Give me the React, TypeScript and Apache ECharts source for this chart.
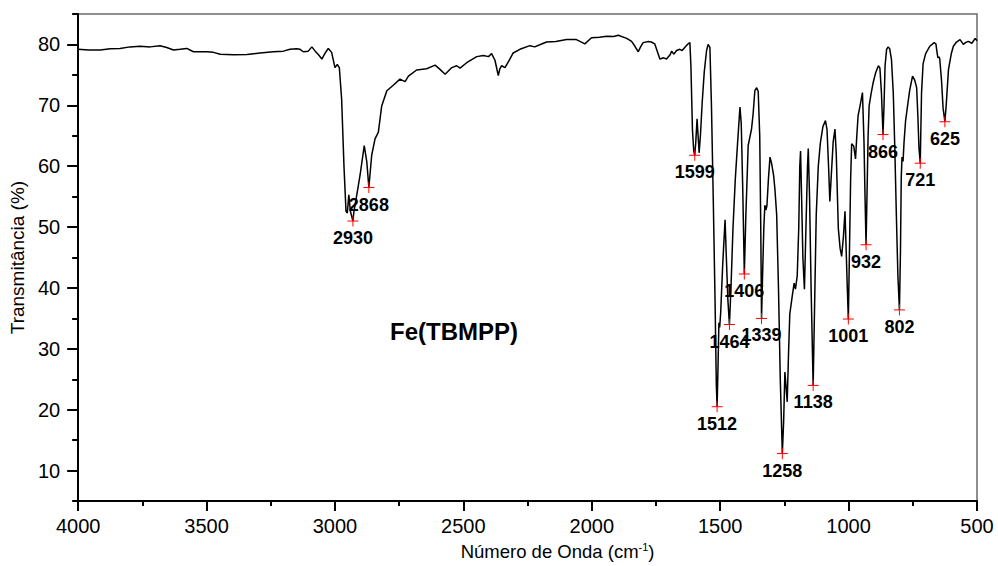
import React, { useEffect, useRef } from "react";
import * as echarts from "echarts";

// Spectrum (wavenumber cm-1, transmittance %)
const wavenumbers = [
  4000, 3960, 3914, 3875, 3837, 3798, 3759, 3720, 3681, 3655, 3629, 3603, 3577, 3551, 3499, 3473, 3447, 3395, 3343, 3292,
  3240, 3201, 3175, 3149, 3136, 3123, 3104, 3090, 3077, 3064, 3051, 3038, 3026, 3013, 3000, 2991, 2983, 2974, 2965, 2957,
  2952, 2946, 2940, 2930, 2926, 2915, 2902, 2886, 2876, 2868, 2857, 2844, 2831, 2818, 2798, 2773, 2747, 2727, 2714, 2682,
  2643, 2610, 2591, 2571, 2545, 2526, 2513, 2487, 2448, 2422, 2402, 2390, 2377, 2364, 2358, 2351, 2338, 2320, 2306, 2280,
  2241, 2222, 2200, 2176, 2140, 2098, 2060, 2046, 2027, 2001, 1970, 1942, 1915, 1897, 1864, 1845, 1832, 1819, 1810, 1800,
  1780, 1768, 1755, 1742, 1735, 1720, 1709, 1695, 1689, 1680, 1670, 1657, 1648, 1638, 1625, 1618, 1614, 1608, 1603, 1599,
  1595, 1590, 1586, 1582, 1577, 1570, 1562, 1553, 1547, 1540, 1534, 1527, 1520, 1515, 1512, 1509, 1505, 1502, 1498, 1490,
  1481, 1476, 1470, 1464, 1458, 1450, 1441, 1432, 1423, 1418, 1412, 1406, 1400, 1391, 1378, 1372, 1365, 1358, 1352, 1346,
  1342, 1339, 1335, 1330, 1326, 1322, 1318, 1312, 1306, 1300, 1292, 1287, 1280, 1273, 1266, 1258, 1253, 1248, 1244, 1239,
  1234, 1229, 1220, 1212, 1207, 1200, 1194, 1190, 1187, 1183, 1178, 1172, 1166, 1160, 1157, 1152, 1146, 1138, 1132, 1126,
  1118, 1110, 1100, 1090, 1084, 1078, 1073, 1068, 1060, 1053, 1048, 1040, 1033, 1027, 1020, 1014, 1010, 1005, 1001, 997,
  992, 988, 980, 973, 968, 963, 955, 946, 940, 936, 932, 928, 924, 920, 912, 904, 895, 884, 878, 872,
  866, 862, 858, 852, 846, 840, 833, 826, 820, 814, 808, 802, 798, 795, 792, 788, 784, 778, 772, 762,
  751, 743, 735, 730, 726, 721, 716, 710, 700, 684, 675, 667, 660, 655, 652, 648, 645, 638, 632, 625,
  620, 611, 600, 592, 580, 566, 553, 545, 534, 520, 507, 500,
];
const transmittance = [
  79.2, 79.1, 79.1, 79.3, 79.35, 79.6, 79.7, 79.6, 79.8, 79.5, 79.1, 79.2, 79.35, 78.8, 78.8, 78.7, 78.4, 78.3, 78.35, 78.6,
  78.8, 78.9, 79.2, 79.3, 79.2, 78.8, 78.9, 79.6, 78.9, 78.3, 77.6, 78.6, 79.35, 78.7, 76.2, 76.7, 76.2, 71.0, 60.1, 52.6,
  52.3, 55.3, 52.6, 51.0, 52.6, 55.3, 58.6, 63.4, 60.7, 56.5, 61.8, 64.5, 65.6, 69.9, 72.4, 73.3, 74.3, 73.9, 74.8, 75.8,
  76.0, 76.6, 75.9, 75.1, 76.2, 76.5, 76.1, 77.0, 78.0, 78.2, 78.0, 78.5, 77.4, 74.9, 76.0, 76.5, 76.2, 77.5, 78.6, 79.2,
  79.8, 79.6, 80.0, 80.4, 80.5, 80.8, 80.8, 80.5, 80.1, 81.1, 81.2, 81.35, 81.3, 81.5, 81.0, 80.5, 79.7, 78.8, 79.6, 80.3,
  80.5, 80.4, 80.1, 78.5, 77.6, 77.8, 77.6, 78.3, 78.9, 78.4, 79.0, 79.2, 79.0, 79.5, 80.1, 80.3, 76.5, 66.0, 62.5, 61.8,
  64.0, 67.8, 65.0, 62.2, 65.0, 70.5, 75.5, 79.0, 80.0, 79.5, 70.0, 54.7, 38.0, 24.0, 20.5, 26.0, 34.3, 33.5, 36.0, 44.0,
  51.2, 45.0, 38.0, 34.0, 40.0, 50.0, 58.0, 64.0, 69.7, 67.0, 56.0, 42.3, 52.0, 63.4, 66.1, 68.5, 72.4, 72.9, 72.3, 65.0,
  50.0, 35.0, 42.0, 50.0, 53.6, 52.8, 53.5, 58.0, 61.5, 60.5, 58.5, 56.3, 52.0, 40.0, 25.0, 12.8, 18.0, 26.2, 24.0, 21.3,
  29.0, 35.7, 38.5, 40.8, 39.8, 42.0, 50.0, 60.0, 62.5, 55.0, 45.0, 39.8, 50.0, 60.0, 62.9, 55.0, 40.0, 24.0, 38.0, 52.0,
  60.0, 63.8, 66.5, 67.5, 66.0, 60.0, 54.2, 58.0, 64.0, 66.1, 62.0, 49.8, 46.5, 45.2, 48.5, 52.6, 47.0, 40.0, 34.9, 45.0,
  58.0, 63.7, 63.3, 61.2, 65.0, 68.3, 70.0, 72.1, 64.0, 55.0, 47.1, 56.0, 65.0, 69.9, 72.0, 73.8, 75.3, 76.5, 76.1, 72.0,
  65.2, 70.0, 76.5, 79.2, 79.6, 79.3, 77.5, 72.0, 62.9, 52.0, 42.0, 36.4, 46.0, 58.0, 61.5, 60.8, 64.0, 67.5, 69.4, 72.5,
  74.8, 74.2, 72.9, 68.0, 63.0, 60.5, 72.0, 76.8, 78.5, 79.7, 80.0, 80.3, 80.1, 78.5, 77.8, 78.0, 77.6, 74.0, 69.5, 67.3,
  70.0, 75.9, 78.5, 79.7, 80.4, 80.8, 80.0, 80.3, 80.5, 80.2, 81.0, 80.6,
];

// Marked peaks
const peakWavenumbers = [2930, 2868, 1599, 1512, 1464, 1406, 1339, 1258, 1138, 1001, 932, 866, 802, 721, 625];
const peakValues = [51.0, 56.5, 61.8, 20.5, 34.0, 42.3, 35.0, 12.8, 24.0, 34.9, 47.1, 65.2, 36.4, 60.5, 67.3];

const yTickValues = [10, 20, 30, 40, 50, 60, 70, 80];

const FONT = "Arial, 'Liberation Sans', sans-serif";

export default function App() {
  const ref = useRef<HTMLDivElement>(null);

  useEffect(() => {
    if (!ref.current) return;
    const chart = echarts.init(ref.current, undefined, { renderer: "svg" });
    const lineData = wavenumbers.map((w, i) => [w, transmittance[i]]);
    const peakData = peakWavenumbers.map((w, i) => [w, peakValues[i]]);

    chart.setOption({
      animation: false,
      backgroundColor: "#ffffff",
      textStyle: { fontFamily: FONT },
      grid: {
        left: 78,
        right: 21,
        top: 14,
        bottom: 61,
        show: true,
        borderColor: "#6a6a6a",
        borderWidth: 1.5,
        backgroundColor: "transparent",
      },
      xAxis: {
        type: "value",
        min: 500,
        max: 4000,
        interval: 500,
        inverse: true,
        name: "{a|Número de Onda (cm}{s|-1}{a|)}",
        nameLocation: "middle",
        nameGap: 37,
        nameTextStyle: {
          padding: [0, 0, 0, 60],
          rich: {
            a: { fontSize: 18.5, fontFamily: FONT, color: "#000" },
            s: { fontSize: 11, fontFamily: FONT, color: "#000", padding: [0, 0, 10, 0] },
          },
        },
        axisLine: { show: true, lineStyle: { color: "#000", width: 2 } },
        axisTick: { show: true, inside: false, length: 10, lineStyle: { color: "#000", width: 2 } },
        minorTick: { show: true, splitNumber: 2, length: 5, lineStyle: { color: "#000", width: 2 } },
        axisLabel: {
          fontSize: 20,
          color: "#000",
          margin: 15,
          fontFamily: FONT,
          formatter: (v: number) => String(v),
        },
        splitLine: { show: false },
        minorSplitLine: { show: false },
      },
      yAxis: [
        {
          type: "value",
          min: 5,
          max: 85,
          position: "left",
          name: "Transmitância (%)",
          nameLocation: "middle",
          nameGap: 50,
          nameTextStyle: { fontSize: 19, color: "#000", fontFamily: FONT },
          axisLine: { show: true, lineStyle: { color: "#000", width: 2 } },
          axisTick: {
            show: true,
            inside: false,
            length: 11,
            customValues: yTickValues,
            lineStyle: { color: "#000", width: 2 },
          },
          axisLabel: {
            fontSize: 20,
            color: "#000",
            margin: 18,
            customValues: yTickValues,
            fontFamily: FONT,
            formatter: (v: number) => String(v),
          },
          splitLine: { show: false },
        },
        {
          type: "value",
          min: 5,
          max: 85,
          interval: 5,
          position: "left",
          axisLine: { show: false },
          axisTick: { show: true, inside: false, length: 6, lineStyle: { color: "#000", width: 2 } },
          axisLabel: { show: false },
          splitLine: { show: false },
        },
      ],
      graphic: [
        {
          type: "text",
          left: 390,
          top: 319,
          style: { text: "Fe(TBMPP)", font: `bold 24px ${FONT}`, fill: "#000" },
        },
      ],
      series: [
        {
          type: "line",
          data: lineData,
          showSymbol: false,
          symbol: "none",
          lineStyle: { color: "#000", width: 1.5 },
          z: 2,
        },
        {
          type: "scatter",
          data: peakData,
          symbol: "path://M5,0L5,10M0,5L10,5",
          symbolSize: 11,
          itemStyle: { color: "transparent", borderColor: "#ff0000", borderWidth: 1, opacity: 1 },
          label: {
            show: true,
            position: "bottom",
            distance: 2,
            formatter: (p: any) => String(p.value[0]),
            fontSize: 18,
            fontWeight: "bold",
            color: "#000",
            opacity: 1,
            fontFamily: FONT,
          },
          z: 3,
        },
      ],
    });

    return () => chart.dispose();
  }, []);

  return (
    <div
      ref={ref}
      style={{ position: "fixed", left: 0, top: 0, width: 998, height: 566, background: "#fff" }}
    />
  );
}
